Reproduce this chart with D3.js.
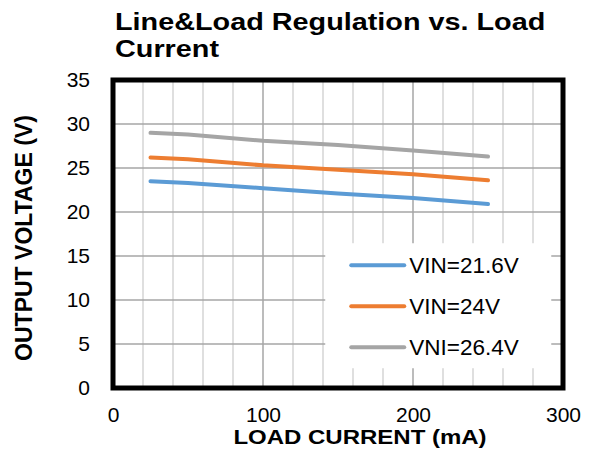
<!DOCTYPE html>
<html>
<head>
<meta charset="utf-8">
<script src="https://cdn.jsdelivr.net/npm/d3@7"></script>
<style>
  body { margin: 0; background: #fff; }
  svg { font-family: Arial, "Liberation Sans", sans-serif; }
</style>
</head>
<body>
<svg id="chart" width="593" height="463"></svg>
<script>
// values
var loadCurrent = [25, 50, 100, 150, 200, 250];
var vin216 = [23.5, 23.3, 22.7, 22.1, 21.6, 20.9];
var vin24 = [26.2, 26.0, 25.3, 24.8, 24.3, 23.6];
var vin264 = [29.0, 28.8, 28.1, 27.6, 27.0, 26.3];
var seriesNames = ["VIN=21.6V", "VIN=24V", "VNI=26.4V"];
var seriesColors = ["#5b9bd5", "#ed7d31", "#a5a5a5"];
var xTicks = [0, 100, 200, 300];
var yTicks = [0, 5, 10, 15, 20, 25, 30, 35];

var margin = {top: 80, right: 30, bottom: 75, left: 113},
    width = 593 - margin.left - margin.right,
    height = 463 - margin.top - margin.bottom;

var svg = d3.select("#chart");
var g = svg.append("g")
    .attr("transform", "translate(" + margin.left + "," + margin.top + ")");

var x = d3.scaleLinear().domain([0, 300]).range([0, width]);
var y = d3.scaleLinear().domain([0, 35]).range([height, 0]);

// minor vertical grid every 20
g.append("g").selectAll("line")
    .data(d3.range(20, 300, 20).filter(function(d) { return d % 100 !== 0; }))
  .enter().append("line")
    .attr("x1", function(d) { return x(d); })
    .attr("x2", function(d) { return x(d); })
    .attr("y1", 0).attr("y2", height)
    .attr("stroke", "#d4d4d4").attr("stroke-width", 1.5);

// major grid
g.append("g").selectAll("line")
    .data(xTicks.slice(1, -1))
  .enter().append("line")
    .attr("x1", function(d) { return x(d); })
    .attr("x2", function(d) { return x(d); })
    .attr("y1", 0).attr("y2", height)
    .attr("stroke", "#a6a6a6").attr("stroke-width", 1.5);

g.append("g").selectAll("line")
    .data(yTicks.slice(1, -1))
  .enter().append("line")
    .attr("x1", 0).attr("x2", width)
    .attr("y1", function(d) { return y(d); })
    .attr("y2", function(d) { return y(d); })
    .attr("stroke", "#a6a6a6").attr("stroke-width", 1.5);

// axes - only labels, no tick marks
var xAxis = d3.axisBottom(x).tickValues(xTicks).tickSize(0).tickPadding(19);
var yAxis = d3.axisLeft(y).tickValues(yTicks).tickSize(0).tickPadding(23);

var gx = g.append("g").attr("transform", "translate(0," + height + ")").call(xAxis);
var gy = g.append("g").call(yAxis);
[gx, gy].forEach(function(a) {
  a.select(".domain").remove();
  a.selectAll("text").style("font-size", "21px").attr("fill", "#000");
});

// lines
var line = d3.line()
    .x(function(d, i) { return x(loadCurrent[i]); })
    .y(function(d) { return y(d); });

[vin216, vin24, vin264].forEach(function(s, i) {
  g.append("path")
    .datum(s)
    .attr("d", line)
    .attr("fill", "none")
    .attr("stroke", seriesColors[i])
    .attr("stroke-width", 4)
    .attr("stroke-linecap", "round");
});

// legend box (covers grid)
var legend = g.append("g").attr("transform", "translate(" + (x(141.5)) + "," + (y(16.45)) + ")");
legend.append("rect")
    .attr("width", 226).attr("height", 125)
    .attr("fill", "#fff");
seriesNames.forEach(function(name, i) {
  var row = legend.append("g").attr("transform", "translate(0," + (22 + i * 41) + ")");
  row.append("line")
    .attr("x1", 26).attr("x2", 79)
    .attr("stroke", seriesColors[i]).attr("stroke-width", 4)
    .attr("stroke-linecap", "round");
  row.append("text")
    .attr("x", 84).attr("dy", "0.35em")
    .style("font-size", "22.5px")
    .text(name);
});

// frame
g.append("rect")
    .attr("width", width).attr("height", height)
    .attr("fill", "none").attr("stroke", "#000").attr("stroke-width", 5);

// title (stretched a bit horizontally like the original)
var title = svg.append("text")
    .attr("transform", "translate(115,0) scale(1.2,1)")
    .style("font-size", "24px").style("font-weight", "bold");
title.append("tspan").attr("x", 0).attr("y", 30).text("Line&Load Regulation vs. Load");
title.append("tspan").attr("x", 0).attr("y", 57).text("Current");

svg.append("text")
    .attr("transform", "translate(360,444) scale(1.2,1)")
    .attr("text-anchor", "middle")
    .style("font-size", "20px").style("font-weight", "bold")
    .text("LOAD CURRENT (mA)");

svg.append("text")
    .attr("transform", "translate(32,238) rotate(-90)")
    .attr("text-anchor", "middle")
    .style("font-size", "23px").style("font-weight", "bold")
    .text("OUTPUT VOLTAGE (V)");
</script>
</body>
</html>
